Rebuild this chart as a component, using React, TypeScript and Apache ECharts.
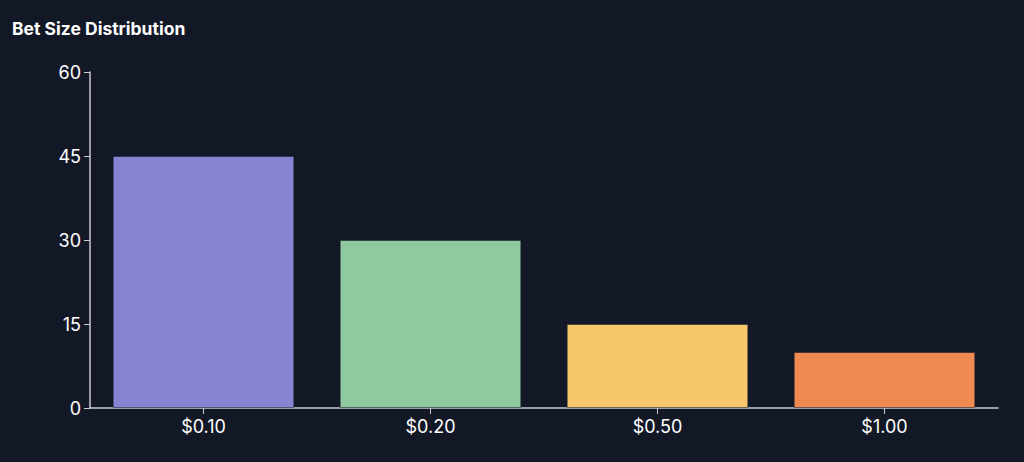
import React, { useEffect, useRef } from "react";
import * as echarts from "echarts";

const categories = ["$0.10", "$0.20", "$0.50", "$1.00"];
const values = [45, 30, 15, 10];
const barColors = ["#8884d4", "#90c9a0", "#f6c86b", "#ef8a50"];
const yTicks = { min: 0, max: 60, interval: 15 };

export default function App() {
  const ref = useRef<HTMLDivElement>(null);
  useEffect(() => {
    if (!ref.current) return;
    const chart = echarts.init(ref.current, undefined, { renderer: "svg" });
    chart.setOption({
      animation: false,
      backgroundColor: "#131826",
      title: {
        text: "Bet Size Distribution",
        left: 12,
        top: 19,
        padding: 0,
        textStyle: {
          color: "#ffffff",
          fontSize: 17.5,
          fontWeight: "bold",
          fontFamily: "Inter, 'Noto Sans', sans-serif",
        },
      },
      grid: { left: 90, right: 26, top: 72, bottom: 54 },
      xAxis: {
        type: "category",
        data: categories,
        boundaryGap: true,
        axisLine: { show: true, lineStyle: { color: "#c8cacf", width: 1.5 } },
        axisTick: { show: true, alignWithLabel: true, length: 6, lineStyle: { color: "#c8cacf" } },
        axisLabel: {
          color: "#ffffff",
          fontSize: 18,
          margin: 9,
          fontFamily: "Inter, 'Noto Sans', sans-serif",
        },
      },
      yAxis: {
        type: "value",
        min: yTicks.min,
        max: yTicks.max,
        interval: yTicks.interval,
        splitLine: { show: false },
        axisLine: { show: true, lineStyle: { color: "#c8cacf", width: 1.5 } },
        axisTick: { show: true, length: 6, lineStyle: { color: "#c8cacf" } },
        axisLabel: {
          color: "#ffffff",
          fontSize: 18,
          margin: 9,
          fontFamily: "Inter, 'Noto Sans', sans-serif",
        },
      },
      series: [
        {
          type: "bar",
          barCategoryGap: "20%",
          data: values.map((v, i) => ({
            value: v,
            itemStyle: { color: barColors[i], borderColor: "rgba(19,24,38,0.5)", borderWidth: 1 },
          })),
        },
      ],
    });
    return () => chart.dispose();
  }, []);
  return (
    <div
      ref={ref}
      style={{ position: "absolute", left: 0, top: 0, width: 1024, height: 462 }}
    />
  );
}
